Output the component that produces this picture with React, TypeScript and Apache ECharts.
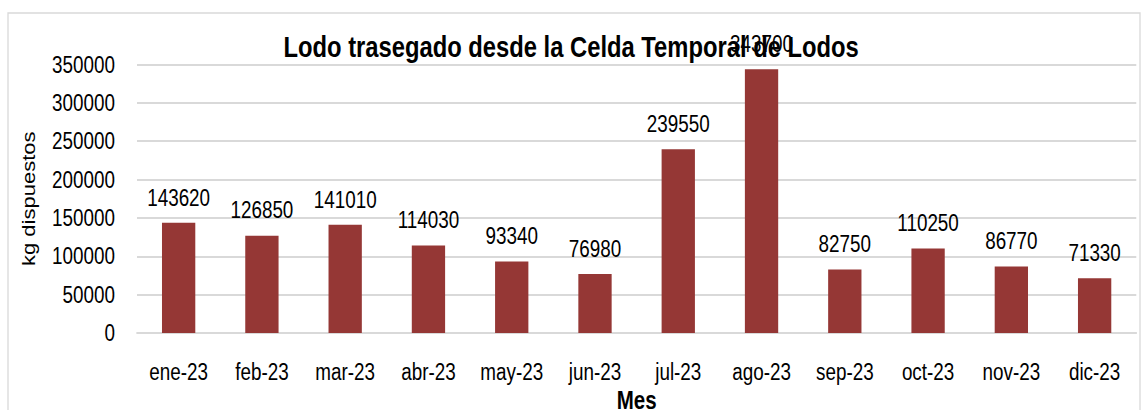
import React, { useEffect, useRef } from "react";
import * as echarts from "echarts";

const categories = ["ene-23", "feb-23", "mar-23", "abr-23", "may-23", "jun-23", "jul-23", "ago-23", "sep-23", "oct-23", "nov-23", "dic-23"];
const values = [143620, 126850, 141010, 114030, 93340, 76980, 239550, 343700, 82750, 110250, 86770, 71330];
const yMax = 350000;
const yInterval = 50000;
const titleText = "Lodo trasegado desde la Celda Temporal de Lodos";
const yName = "kg dispuestos";
const xName = "Mes";

const FONT = "'Liberation Sans', Arial, sans-serif";
// The reference is horizontally condensed; draw wider and squeeze with CSS.
const SX = 0.82;
const W = 1142 / SX;
const H = 410;

export default function App() {
  const ref = useRef<HTMLDivElement>(null);
  useEffect(() => {
    if (!ref.current) return;
    const chart = echarts.init(ref.current, undefined, { renderer: "svg" });
    chart.setOption({
      animation: false,
      backgroundColor: "#ffffff",
      textStyle: { fontFamily: FONT },
      title: {
        text: titleText,
        left: "center",
        top: 28,
        textStyle: { fontFamily: FONT, fontSize: 29, fontWeight: "bold", color: "#000000" },
      },
      graphic: [
        {
          type: "rect",
          shape: { x: 8 / SX, y: 13, width: 1132 / SX, height: 420 },
          style: { fill: "none", stroke: "#d9d9d9", lineWidth: 1.6 },
          silent: true,
        },
      ],
      grid: {
        left: 137 / SX,
        right: 6 / SX,
        top: 64.5,
        bottom: 77,
        containLabel: false,
        outerBoundsMode: "none",
      },
      xAxis: {
        type: "category",
        data: categories,
        name: xName,
        nameLocation: "middle",
        nameGap: 54,
        nameTextStyle: { fontFamily: FONT, fontSize: 25, fontWeight: "bold", color: "#000000" },
        axisLine: { lineStyle: { color: "#d9d9d9", width: 2 } },
        axisTick: { show: false },
        axisLabel: { fontFamily: FONT, fontSize: 23, color: "#000000", margin: 27, interval: 0 },
      },
      yAxis: {
        type: "value",
        min: 0,
        max: yMax,
        interval: yInterval,
        name: yName,
        nameLocation: "middle",
        nameGap: 121,
        nameTextStyle: { fontFamily: FONT, fontSize: 22, color: "#000000" },
        axisLine: { show: false },
        axisTick: { show: false },
        splitLine: { lineStyle: { color: "#d9d9d9", width: 2 } },
        axisLabel: {
          fontFamily: FONT,
          fontSize: 23,
          color: "#000000",
          margin: 22 / SX,
          formatter: (v: number) => String(v),
        },
      },
      series: [
        {
          type: "bar",
          data: values,
          barWidth: "40%",
          itemStyle: { color: "#953735" },
          label: {
            show: true,
            position: "top",
            distance: 14,
            fontFamily: FONT,
            fontSize: 23,
            color: "#000000",
          },
        },
      ],
    });
    return () => chart.dispose();
  }, []);
  return (
    <div style={{ position: "absolute", left: 0, top: 0, width: 1142, height: H, overflow: "hidden" }}>
      <div
        ref={ref}
        style={{ width: W, height: H, transform: `scaleX(${SX})`, transformOrigin: "0 0" }}
      />
    </div>
  );
}
